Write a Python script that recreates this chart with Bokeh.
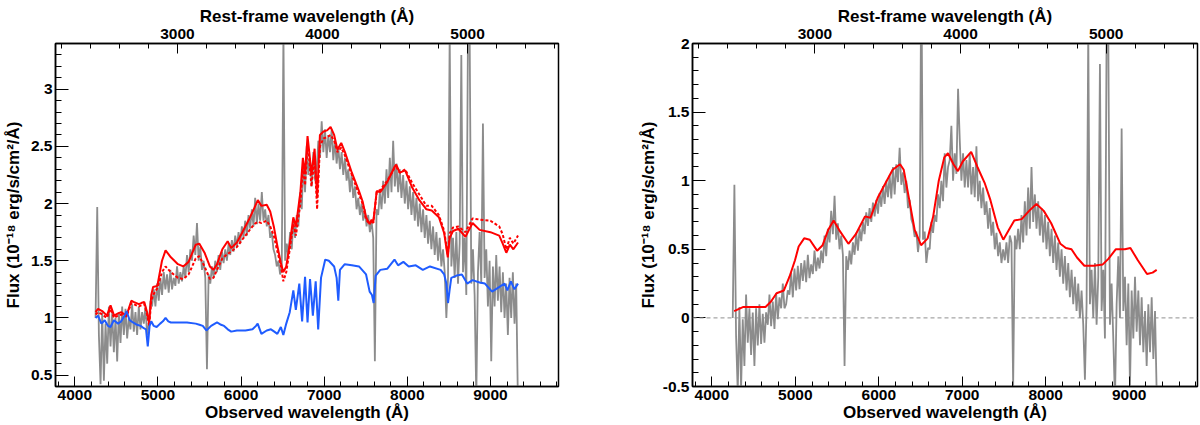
import numpy as np
from bokeh.plotting import figure
from bokeh.layouts import row
from bokeh.models import Range1d, LinearAxis, FixedTicker, Span
from bokeh.embed import file_html
from bokeh.resources import INLINE

# redshift linking observed and rest-frame wavelength
z = 0.745

# observed spectrum, sampled every 20 A from 4250 to 9330
lam_obs = np.arange(4250, 9331, 20)
flux_obs = [
    1.00, 1.97, 0.85, 0.42, 1.05, 0.45, 0.95, 0.60, 1.10, 0.75,
    1.05, 0.70, 1.00, 0.62, 1.05, 0.78, 1.10, 0.85, 1.08, 0.82,
    1.00, 0.90, 1.12, 0.88, 1.05, 0.85, 1.10, 0.90, 1.05, 0.95,
    1.10, 0.85, 0.95, 1.15, 1.10, 1.25, 1.10, 1.30, 1.15, 1.35,
    1.20, 1.40, 1.25, 1.38, 1.22, 1.42, 1.25, 1.35, 1.28, 1.45,
    1.30, 1.40, 1.32, 1.45, 1.35, 1.55, 1.40, 1.60, 1.50, 1.72,
    1.55, 1.83, 1.50, 1.62, 1.42, 1.50, 1.35, 0.55, 1.38, 1.30,
    1.45, 1.35, 1.50, 1.40, 1.55, 1.42, 1.58, 1.48, 1.60, 1.50,
    1.65, 1.55, 1.68, 1.58, 1.72, 1.62, 1.75, 1.65, 1.80, 1.70,
    1.85, 1.72, 1.90, 1.78, 1.95, 1.80, 2.05, 1.82, 2.00, 1.85,
    2.10, 1.85, 1.95, 1.80, 1.90, 1.70, 1.75, 1.60, 1.55, 1.45,
    1.50, 1.38, 1.45, 3.50, 1.50, 1.65, 1.55, 1.75, 1.60, 1.85,
    1.70, 1.90, 1.80, 2.10, 1.95, 2.35, 2.10, 2.50, 2.25, 2.40,
    2.15, 2.45, 2.20, 2.30, 2.55, 2.40, 2.72, 2.45, 2.65, 2.40,
    2.60, 2.45, 2.65, 2.38, 2.55, 2.35, 2.50, 2.30, 2.45, 2.25,
    2.40, 2.20, 2.30, 2.10, 2.25, 2.05, 2.15, 1.95, 2.05, 1.90,
    2.00, 1.85, 1.95, 1.80, 1.90, 1.75, 1.85, 1.70, 0.62, 1.95,
    1.90, 2.10, 1.95, 2.20, 2.00, 2.30, 2.05, 2.40, 2.10, 2.55,
    2.15, 2.35, 2.10, 2.30, 2.05, 2.25, 2.00, 2.20, 1.95, 2.15,
    1.90, 2.10, 1.85, 2.05, 1.80, 2.00, 1.75, 1.95, 1.70, 1.90,
    1.65, 1.85, 1.60, 1.80, 1.55, 1.75, 1.50, 1.70, 1.45, 1.60,
    1.40, 1.00, 1.35, 3.50, 1.45, 1.70, 1.35, 1.75, 1.30, 1.65,
    3.30, 1.40, 1.70, 1.20, 3.50, 3.50, 1.30, 1.60, 1.20, 0.30,
    1.40, 1.75, 1.30, 2.70, 1.35, 1.60, 1.10, 1.50, 0.62, 1.45,
    1.10, 1.55, 1.15, 1.45, 1.05, 1.40, 1.00, 1.30, 0.85, 1.35,
    1.00, 1.40, 0.95, 1.30, 0.30,
]

# host-subtracted spectrum (right panel), same sampling
flux_res = [
    0.00, 0.97, -0.13, -0.54, 0.08, -0.52, -0.01, -0.35, 0.17, -0.18,
    0.07, -0.27, 0.04, -0.35, 0.07, -0.20, 0.10, -0.19, 0.03, -0.18,
    0.04, -0.05, 0.17, -0.06, 0.12, -0.08, 0.18, -0.01, 0.15, 0.07,
    0.25, 0.07, 0.10, 0.20, 0.17, 0.33, 0.15, 0.36, 0.20, 0.38,
    0.21, 0.40, 0.27, 0.42, 0.26, 0.46, 0.29, 0.39, 0.32, 0.49,
    0.34, 0.44, 0.36, 0.49, 0.40, 0.60, 0.45, 0.65, 0.55, 0.78,
    0.61, 0.89, 0.57, 0.69, 0.50, 0.60, 0.46, -0.35, 0.45, 0.35,
    0.49, 0.39, 0.55, 0.46, 0.62, 0.49, 0.65, 0.56, 0.70, 0.61,
    0.77, 0.67, 0.80, 0.70, 0.84, 0.74, 0.86, 0.76, 0.91, 0.81,
    0.96, 0.83, 1.00, 0.88, 1.04, 0.87, 1.10, 0.90, 1.12, 0.99,
    1.24, 0.97, 1.06, 0.91, 1.00, 0.80, 0.86, 0.72, 0.68, 0.59,
    0.63, 0.48, 0.59, 2.60, 0.57, 0.63, 0.40, 0.51, 0.50, 0.70,
    0.62, 0.75, 0.70, 0.90, 0.80, 1.00, 0.85, 1.20, 0.95, 1.10,
    1.15, 1.40, 1.00, 1.20, 1.05, 1.67, 1.30, 1.00, 1.20, 0.95,
    1.15, 0.95, 1.20, 0.90, 1.10, 0.88, 1.25, 0.85, 1.00, 0.80,
    0.95, 0.75, 0.85, 0.65, 0.80, 0.60, 0.70, 0.50, 0.62, 0.45,
    0.55, 0.40, 0.50, 0.42, 0.55, 0.40, 0.60, 0.55, -0.50, 0.60,
    0.50, 0.65, 0.50, 0.75, 0.55, 0.85, 0.60, 0.95, 0.65, 1.10,
    0.70, 0.90, 0.65, 0.85, 0.60, 0.80, 0.55, 0.75, 0.50, 0.70,
    0.45, 0.65, 0.40, 0.60, 0.35, 0.55, 0.30, 0.50, 0.25, 0.45,
    0.20, 0.40, 0.15, 0.35, 0.10, 0.30, 0.05, 0.25, 0.00, 0.20,
    -0.05, -0.45, 0.10, 2.10, 0.10, 0.35, 0.00, 0.40, -0.05, 0.30,
    1.85, 0.05, 0.35, -0.15, 2.10, 2.10, -0.05, 0.25, -0.15, -0.60,
    0.10, 0.45, 0.00, 1.38, 0.05, 0.30, -0.20, 0.25, -0.50, 0.20,
    -0.15, 0.30, -0.10, 0.20, -0.20, 0.15, -0.25, 0.05, -0.35, 0.10,
    -0.25, 0.15, -0.30, 0.05, -0.55,
]

# total model (solid) and alternative model (dotted)
lam_model = [
    4250, 4280, 4330, 4387, 4430, 4473, 4520, 4558, 4600, 4622,
    4680, 4707, 4771, 4800, 4836, 4870, 4895, 4920, 4942, 4993,
    5049, 5092, 5156, 5241, 5305, 5369, 5455, 5497, 5561, 5625,
    5668, 5711, 5775, 5839, 5882, 5950, 6010, 6095, 6159, 6202,
    6245, 6309, 6351, 6394, 6437, 6479, 6509, 6544, 6586, 6629,
    6660, 6714, 6744, 6770, 6800, 6821, 6847, 6885, 6915, 6949,
    6992, 7035, 7077, 7120, 7160, 7205, 7250, 7333, 7419, 7462,
    7504, 7547, 7570, 7590, 7632, 7675, 7760, 7846, 7867, 7910,
    7974, 8059, 8145, 8230, 8294, 8380, 8444, 8487, 8510, 8550,
    8614, 8700, 8785, 8870, 9000, 9106, 9148, 9191, 9234, 9276, 9332,
]
model_total = [
    1.05, 1.08, 1.06, 1.02, 1.11, 1.02, 1.04, 1.05, 1.03, 1.02,
    1.15, 1.14, 1.12, 1.13, 1.14, 1.05, 0.95, 1.20, 1.27, 1.28,
    1.50, 1.59, 1.53, 1.47, 1.45, 1.49, 1.64, 1.65, 1.57, 1.45,
    1.42, 1.47, 1.60, 1.67, 1.61, 1.66, 1.74, 1.86, 1.96, 2.03,
    1.98, 1.99, 1.93, 1.80, 1.63, 1.48, 1.40, 1.45, 1.65, 1.88,
    1.80, 2.10, 2.40, 2.26, 2.59, 2.45, 2.25, 2.48, 2.05, 2.60,
    2.63, 2.64, 2.67, 2.60, 2.47, 2.53, 2.45, 2.27, 2.11, 2.02,
    1.88, 1.82, 1.86, 1.83, 2.11, 2.10, 2.19, 2.32, 2.34, 2.27,
    2.29, 2.14, 2.03, 1.95, 1.94, 1.88, 1.74, 1.53, 1.70, 1.76,
    1.78, 1.71, 1.83, 1.77, 1.75, 1.72, 1.65, 1.57, 1.64, 1.60, 1.66,
]
model_alt = [
    1.03, 1.05, 1.03, 1.00, 1.08, 1.00, 1.02, 1.03, 1.02, 1.01,
    1.13, 1.12, 1.10, 1.11, 1.12, 1.03, 0.93, 1.15, 1.20, 1.26,
    1.40, 1.45, 1.40, 1.35, 1.34, 1.38, 1.52, 1.54, 1.45, 1.34,
    1.35, 1.42, 1.52, 1.56, 1.58, 1.62, 1.68, 1.76, 1.82, 1.84,
    1.83, 1.85, 1.80, 1.72, 1.58, 1.46, 1.32, 1.40, 1.60, 1.82,
    1.72, 2.00, 2.32, 2.16, 2.50, 2.38, 2.15, 2.40, 1.95, 2.50,
    2.57, 2.58, 2.60, 2.55, 2.45, 2.49, 2.42, 2.25, 2.08, 2.00,
    1.86, 1.82, 1.85, 1.83, 2.10, 2.12, 2.20, 2.31, 2.32, 2.27,
    2.30, 2.18, 2.08, 1.98, 1.98, 1.90, 1.76, 1.55, 1.74, 1.79,
    1.80, 1.75, 1.87, 1.86, 1.85, 1.80, 1.73, 1.60, 1.70, 1.65, 1.72,
]

# host galaxy component (blue)
lam_host = [
    4250, 4280, 4320, 4360, 4400, 4430, 4470, 4520, 4558, 4600,
    4622, 4660, 4700, 4750, 4793, 4830, 4857, 4878, 4900, 4920,
    4950, 4985, 5027, 5060, 5092, 5125, 5156, 5250, 5350, 5455,
    5500, 5540, 5583, 5640, 5711, 5760, 5796, 5840, 5882, 5950,
    6053, 6138, 6180, 6200, 6245, 6309, 6360, 6400, 6437, 6479,
    6509, 6544, 6586, 6629, 6659, 6701, 6735, 6770, 6800, 6830,
    6864, 6898, 6928, 6962, 7013, 7056, 7120, 7150, 7170, 7190,
    7248, 7333, 7419, 7504, 7547, 7575, 7595, 7620, 7675, 7760,
    7846, 7889, 7953, 8017, 8102, 8187, 8273, 8401, 8444, 8470,
    8490, 8510, 8529, 8593, 8657, 8721, 8785, 8870, 8934, 9020,
    9127, 9170, 9204, 9246, 9289, 9332,
]
host = [
    1.00, 1.02, 0.95, 0.98, 0.93, 0.92, 0.98, 0.95, 0.97, 1.02,
    1.06, 0.98, 0.96, 0.94, 0.93, 0.91, 0.90, 0.75, 0.93, 0.97,
    0.93, 0.92, 0.95, 0.97, 1.00, 0.97, 0.96, 0.96, 0.96, 0.95,
    0.94, 0.93, 0.89, 0.93, 0.96, 0.94, 0.93, 0.90, 0.88, 0.89,
    0.89, 0.90, 0.93, 0.95, 0.86, 0.89, 0.90, 0.88, 0.86, 0.92,
    0.85, 0.95, 1.05, 1.24, 1.07, 1.30, 0.97, 1.36, 0.96, 1.34,
    1.02, 1.32, 0.90, 1.35, 1.51, 1.50, 1.45, 1.35, 1.15, 1.42,
    1.47, 1.46, 1.45, 1.38, 1.23, 1.20, 1.13, 1.37, 1.42, 1.43,
    1.51, 1.46, 1.49, 1.45, 1.46, 1.42, 1.45, 1.42, 1.38, 1.30,
    1.13, 1.25, 1.35, 1.37, 1.38, 1.30, 1.33, 1.31, 1.30, 1.23,
    1.28, 1.30, 1.24, 1.32, 1.25, 1.30,
]

# smooth fit to the host-subtracted spectrum (right panel)
lam_fit = [
    4267, 4378, 4510, 4643, 4709, 4775, 4863, 4930, 4996, 5040,
    5106, 5173, 5261, 5327, 5393, 5459, 5526, 5636, 5725, 5835,
    5901, 5990, 6078, 6166, 6255, 6299, 6365, 6431, 6507, 6586,
    6652, 6719, 6785, 6829, 6895, 6948, 7006, 7107, 7182, 7271,
    7337, 7425, 7492, 7558, 7624, 7712, 7801, 7889, 7977, 8066,
    8176, 8242, 8309, 8375, 8463, 8574, 8684, 8751, 8839, 8949,
    9015, 9104, 9214, 9281, 9330,
]
fit = [
    0.05, 0.08, 0.08, 0.08, 0.12, 0.18, 0.20, 0.30, 0.42, 0.52,
    0.58, 0.57, 0.49, 0.53, 0.64, 0.71, 0.64, 0.54, 0.61, 0.74,
    0.73, 0.88, 0.98, 1.08, 1.12, 1.08, 0.86, 0.64, 0.53, 0.58,
    0.74, 1.00, 1.17, 1.20, 1.12, 1.07, 1.14, 1.21, 1.10, 0.98,
    0.86, 0.66, 0.57, 0.64, 0.71, 0.72, 0.78, 0.83, 0.78, 0.69,
    0.54, 0.51, 0.50, 0.44, 0.38, 0.38, 0.39, 0.43, 0.50, 0.50,
    0.51, 0.42, 0.32, 0.33, 0.35,
]

obs_ticks = [4000, 5000, 6000, 7000, 8000, 9000]
rest_ticks = [3000, 4000, 5000]
left_ticks = [0.5, 1, 1.5, 2, 2.5, 3]
right_ticks = [-0.5, 0, 0.5, 1, 1.5, 2]

X0, X1 = 3768, 9819
FONT = "Liberation Sans"


def style_axis(ax, major, minor, major_len, label_standoff=1, standoff=3):
    ax.ticker = FixedTicker(ticks=major, minor_ticks=minor)
    ax.major_label_overrides = {t: "%g" % t for t in major}
    ax.major_tick_in = major_len
    ax.major_tick_out = 0
    ax.minor_tick_in = major_len // 2
    ax.minor_tick_out = 0
    ax.major_tick_line_color = "black"
    ax.minor_tick_line_color = "black"
    ax.axis_line_color = "black"
    ax.axis_line_width = 1.5
    ax.major_label_text_font = FONT
    ax.major_label_text_font_style = "bold"
    ax.major_label_text_font_size = "15.5px"
    ax.major_label_text_color = "black"
    ax.major_label_standoff = standoff
    ax.axis_label_text_font = FONT
    ax.axis_label_text_font_style = "bold"
    ax.axis_label_text_font_size = "17px"
    ax.axis_label_text_color = "black"
    ax.axis_label_standoff = label_standoff


def make_panel(y0, y1, yticks, width, border_left, border_right, ylab_off):
    p = figure(width=width, height=425, x_range=Range1d(X0, X1),
               y_range=Range1d(y0, y1), output_backend="svg",
               toolbar_location=None, min_border_left=border_left,
               min_border_right=border_right, min_border_top=43,
               min_border_bottom=39)
    p.extra_x_ranges = {"rest": Range1d(X0 / (1 + z), X1 / (1 + z))}
    top = LinearAxis(x_range_name="rest")
    p.add_layout(top, "above")
    p.xgrid.visible = False
    p.ygrid.visible = False
    p.outline_line_color = "black"
    p.outline_line_width = 1.5

    bottom = p.below[0]
    bottom.axis_label = "Observed wavelength (Å)"
    style_axis(bottom, obs_ticks, list(range(3800, 9900, 200)), 10, 0, 3)
    top.axis_label = "Rest-frame wavelength (Å)"
    style_axis(top, rest_ticks, list(range(2200, 5700, 200)), 10, 0, 5)
    left = p.left[0]
    left.axis_label = "Flux (10⁻¹⁸ erg/s/cm²/Å)"
    ymin = [round(v, 1) for v in np.arange(y0, y1 + 0.01, 0.1)]
    style_axis(left, yticks, ymin, 13, ylab_off, 3)
    return p


GRAY = "#8c8c8c"
RED = "#ff0000"
BLUE = "#1f5cff"

p1 = make_panel(0.40, 3.40, left_ticks, 600, 52, 42, 5)
p1.line(lam_obs, flux_obs, line_color=GRAY, line_width=1.8)
p1.line(lam_model, model_alt, line_color=RED, line_width=2, line_dash="3 2")
p1.line(lam_model, model_total, line_color=RED, line_width=2)
p1.line(lam_host, host, line_color=BLUE, line_width=2)

p2 = make_panel(-0.5, 2.0, right_ticks, 599, 92, 2, 2)
p2.add_layout(Span(location=0, dimension="width", line_color="#909090",
                   line_width=1, line_dash="4 3"))
p2.line(lam_obs, flux_res, line_color=GRAY, line_width=1.8)
p2.line(lam_fit, fit, line_color=RED, line_width=2)

layout = row(p1, p2)
open("out.html", "w").write(file_html(layout, INLINE))
